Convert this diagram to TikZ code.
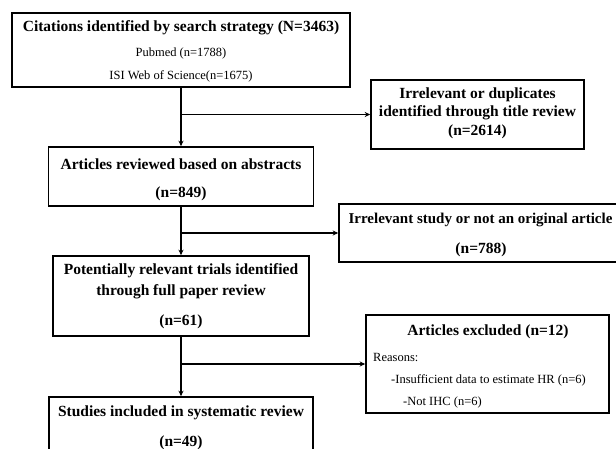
\documentclass[tikz,border=0pt]{standalone}
\usepackage{fontspec}
\setmainfont{Liberation Serif}
\usetikzlibrary{arrows.meta}
\begin{document}
\begin{tikzpicture}[x=1pt,y=-1pt,
  box/.style={draw, line width=1.6pt, inner sep=0pt, rectangle},
  hd/.style={font=\fontsize{15.5}{17}\selectfont\bfseries, inner sep=0pt},
  sm/.style={font=\fontsize{12.5}{14}\selectfont, inner sep=0pt},
  conn/.style={line width=1.3pt},
  arr/.style={conn, -{Stealth[length=5.5pt,width=5pt]}}]
\useasboundingbox (0,0) rectangle (616,449);
\clip (0,0) rectangle (616,449);
% boxes
\node[box, minimum width=338pt, minimum height=74pt] (b1) at (181,50) {};
\node[box, minimum width=213pt, minimum height=69pt] (b2) at (477.5,114.5) {};
\node[box, minimum width=265pt, minimum height=59pt] (b3) at (181,176.5) {};
\node[box, minimum width=291pt, minimum height=58pt] (b4) at (484.5,233) {};
\node[box, minimum width=256pt, minimum height=80pt] (b5) at (181,296) {};
\node[box, minimum width=243pt, minimum height=98pt] (b6) at (487.5,364) {};
\node[box, minimum width=264pt, minimum height=63pt] (b7) at (181,428.5) {};
% texts
\node[hd] (t1a) at (181,28) {Citations identified by search strategy (N=3463)};
\node[sm] (t1b) at (181,53) {Pubmed (n=1788)};
\node[sm] (t1c) at (181,76) {ISI Web of Science(n=1675)};
\node[hd] (t2a) at (477.5,95) {Irrelevant or duplicates};
\node[hd] (t2b) at (477.5,113) {identified through title review};
\node[hd] (t2c) at (477.5,132) {(n=2614)};
\node[hd] (t3a) at (181,164) {Articles reviewed based on abstracts};
\node[hd] (t3b) at (181,194) {(n=849)};
\node[hd, font=\fontsize{15}{17}\selectfont\bfseries] (t4a) at (480.5,220) {Irrelevant study or not an original article};
\node[hd] (t4b) at (481,250) {(n=788)};
\node[hd] (t5a) at (181,271) {Potentially relevant trials identified};
\node[hd] (t5b) at (181,292) {through full paper review};
\node[hd] (t5c) at (181,322) {(n=61)};
\node[hd] (t6a) at (488,332) {Articles excluded (n=12)};
\node[sm, anchor=west] (t6b) at (373,357) {Reasons:};
\node[sm, anchor=west] (t6c) at (391,380) {-Insufficient data to estimate HR (n=6)};
\node[sm, anchor=west] (t6d) at (403,402) {-Not IHC (n=6)};
\node[hd] (t7a) at (181,413) {Studies included in systematic review};
\node[hd] (t7b) at (181,443) {(n=49)};
% connectors
\coordinate (j1) at (181,114.5);
\coordinate (j2) at (181,233);
\coordinate (j3) at (181,364);
\draw[arr] (b1.south) -- (b3.north);
\draw[arr] (b3.south) -- (b5.north);
\draw[arr] (b5.south) -- (b7.north);
\draw[arr] (j1) -- (b2.west);
\draw[arr] (j2) -- (b4.west);
\draw[arr] (j3) -- (b6.west);
\end{tikzpicture}
\end{document}
